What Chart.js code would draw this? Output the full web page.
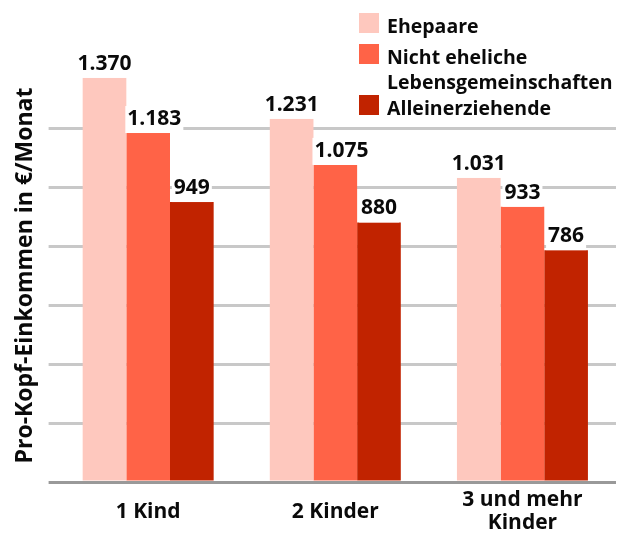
<!DOCTYPE html>
<html>
<head>
<meta charset="utf-8">
<script src="https://cdn.jsdelivr.net/npm/chart.js@4"></script>
<style>
  body { margin: 0; background: #fff; }
  #wrap { position: relative; width: 626px; height: 533px; }
  #legende { position: absolute; left: 359px; top: 13px; font: bold 19.5px "Open Sans", sans-serif; color: #0a0a0a; }
  .item { position: absolute; left: 0; display: flex; align-items: flex-start; white-space: nowrap; }
  .box { width: 20px; height: 20px; margin-right: 8px; flex: none; }
  .txt { line-height: 25px; margin-top: -0.5px; }
</style>
</head>
<body>
<div id="wrap">
  <canvas id="grafica" width="626" height="533"></canvas>
  <div id="legende"></div>
</div>
<script>
const kategorien = ['1 Kind', '2 Kinder', ['3 und mehr', 'Kinder']];
const serien = ['Ehepaare', 'Nicht eheliche<br>Lebensgemeinschaften', 'Alleinerziehende'];
const ehepaare = [1370, 1231, 1031];
const nichtEhelich = [1183, 1075, 933];
const alleinerziehende = [949, 880, 786];
const farben = ['#fec8be', '#ff6347', '#c12300'];
const yMax = 1400;
const yStep = 200;

const schrift = '"Open Sans", sans-serif';

// Tausenderpunkt wie im Original
const formatiere = (v) => String(v).replace(/\B(?=(\d{3})+(?!\d))/g, '.');

// Legende als HTML, weil ein Eintrag zweizeilig ist
const legendTops = [0, 31, 82];
document.querySelector('#legende').innerHTML = serien.map((name, i) => `
  <div class="item" style="top:${legendTops[i]}px">
    <div class="box" style="background:${farben[i]}"></div>
    <div class="txt">${name}</div>
  </div>`).join('');

const wertLabels = {
  id: 'wertLabels',
  afterDatasetsDraw(chart) {
    const { ctx } = chart;
    ctx.save();
    ctx.font = `bold 21px ${schrift}`;
    ctx.textAlign = 'center';
    ctx.textBaseline = 'alphabetic';
    chart.data.datasets.forEach((ds, i) => {
      chart.getDatasetMeta(i).data.forEach((bar, j) => {
        const text = formatiere(ds.data[j]);
        const w = ctx.measureText(text).width;
        let x = bar.x;
        const links = bar.x - bar.width / 2;
        // breite Zahl neben einem hoeheren Balken nach rechts schieben
        if (i > 0 && w > bar.width && chart.data.datasets[i - 1].data[j] > ds.data[j]) {
          x = links + w / 2 + 1;
        }
        const base = bar.y - 8;
        ctx.fillStyle = '#fff';
        ctx.fillRect(x - w / 2 - 2, base - 19, w + 4, bar.y - base + 19);
        ctx.fillStyle = '#0a0a0a';
        ctx.fillText(text, x, base);
      });
    });
    ctx.restore();
  },
};

const daten = [ehepaare, nichtEhelich, alleinerziehende];

// eslint-disable-next-line no-new, no-undef
new Chart(document.querySelector('#grafica'), {
  type: 'bar',
  data: {
    labels: kategorien,
    datasets: daten.map((werte, i) => ({
      label: serien[i].replace('<br>', ' '),
      data: werte,
      backgroundColor: farben[i],
      borderWidth: 0,
      categoryPercentage: 0.7,
      barPercentage: 1,
    })),
  },
  options: {
    responsive: false,
    animation: false,
    devicePixelRatio: 1,
    layout: { padding: { top: 69, right: 10, left: 10, bottom: 0 } },
    plugins: { legend: { display: false }, tooltip: { enabled: false } },
    scales: {
      x: {
        grid: { display: false },
        border: { display: false },
        ticks: {
          color: '#0a0a0a',
          font: { family: schrift, weight: 'bold', size: 21, lineHeight: 1.1 },
          crossAlign: 'center',
          padding: 10,
          maxRotation: 0,
        },
        afterFit: (scale) => { scale.height = 51; },
      },
      y: {
        min: 0,
        max: yMax,
        ticks: { display: false, stepSize: yStep },
        border: { display: false },
        grid: {
          // Nulllinie dunkler als Grundlinie, oberste Linie fehlt im Original
          color: (c) => {
            if (c.tick.value === 0) return '#999';
            if (c.tick.value === yMax) return 'rgba(0,0,0,0)';
            return '#c8c8c8';
          },
          lineWidth: 3,
          tickLength: 6,
          drawTicks: true,
        },
        title: {
          display: true,
          text: 'Pro-Kopf-Einkommen in €/Monat',
          color: '#0a0a0a',
          font: { family: schrift, weight: 'bold', size: 23, lineHeight: 1.2 },
          padding: { top: 2, bottom: 9 },
        },
      },
    },
  },
  plugins: [wertLabels],
});
</script>
</body>
</html>
